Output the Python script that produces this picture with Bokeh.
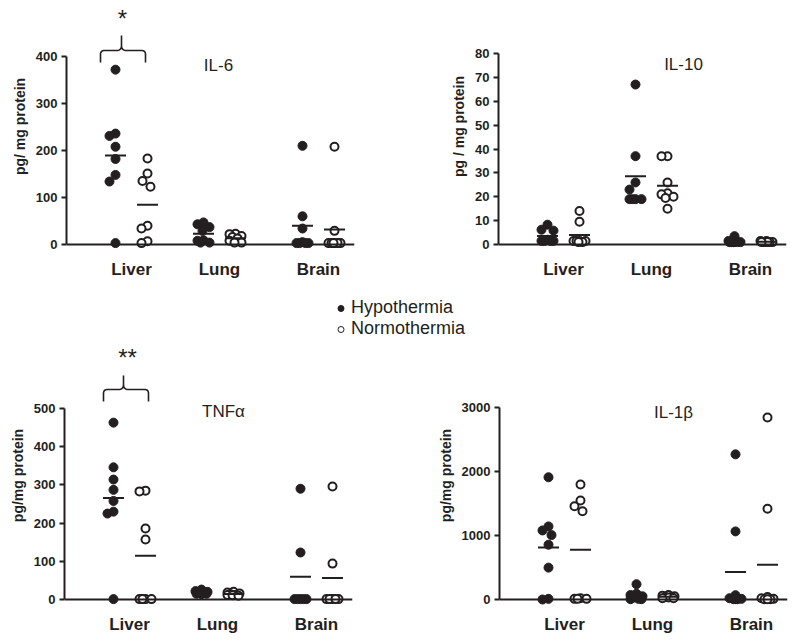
import numpy as np
from bokeh.plotting import figure
from bokeh.models import Range1d, FixedTicker, Span, Label, Legend, LegendItem
from bokeh.layouts import column, row
from bokeh.embed import file_html
from bokeh.resources import INLINE

# ---------------- data ----------------
tissues = ["Liver", "Lung", "Brain"]
groups = ["Hypothermia", "Normothermia"]

il6_hypo_liver = [372, 236, 231, 208, 182, 148, 134, 3]
il6_normo_liver = [183, 151, 135, 123, 40, 34, 7, 3]
il6_hypo_lung = [47, 43, 37, 29, 9, 8, 4, 4]
il6_normo_lung = [23, 22, 18, 16, 13, 8, 4, 4]
il6_hypo_brain = [210, 60, 34, 5, 3, 3, 3, 3]
il6_normo_brain = [208, 29, 3, 3, 3, 3, 3, 3]

il10_hypo_liver = [8.3, 6.2, 5.8, 2, 1.5, 1.5, 1.5, 1.5]
il10_normo_liver = [14, 9.5, 1.5, 1.5, 1.5, 1.5, 1, 1]
il10_hypo_lung = [67, 37, 26, 23, 19, 19, 19, 19]
il10_normo_lung = [37, 37, 26, 21.5, 21, 20, 19.5, 15]
il10_hypo_brain = [3.5, 1.5, 1, 1, 1, 1, 1, 1]
il10_normo_brain = [1.5, 1.5, 1, 1, 1, 1, 1, 1]

tnf_hypo_liver = [463, 346, 314, 287, 258, 230, 225, 1]
tnf_normo_liver = [285, 283, 186, 157, 1, 1, 1, 1]
tnf_hypo_lung = [26, 22, 20, 18, 17, 15, 15, 14]
tnf_normo_lung = [20, 18, 16, 14, 12, 12, 11, 10]
tnf_hypo_brain = [290, 123, 1, 1, 1, 1, 1]
tnf_normo_brain = [296, 94, 1, 1, 1, 1, 1]

il1b_hypo_liver = [1910, 1142, 1079, 1007, 856, 498, 10, 0]
il1b_normo_liver = [1796, 1546, 1458, 1380, 20, 10, 10, 10]
il1b_hypo_lung = [239, 90, 70, 50, 30, 10, 5, 5]
il1b_normo_lung = [70, 60, 50, 40, 40, 30, 20, 20]
il1b_hypo_brain = [2268, 1064, 67, 20, 10, 5, 5, 5]
il1b_normo_brain = [2844, 1417, 40, 20, 10, 5, 5, 5]

il6_ticks = [0, 100, 200, 300, 400]
il10_ticks = [0, 10, 20, 30, 40, 50, 60, 70, 80]
tnf_ticks = [0, 100, 200, 300, 400, 500]
il1b_ticks = [0, 1000, 2000, 3000]

# ---------------- layout constants ----------------
FONT = "Liberation Sans"
INK = "#231f20"
FRAME_W = 288
CAT_X = [65, 153, 252]
GROUP_DX = [-16, 16]
ZERO_PAD = 8  # px between frame bottom and the zero line


def beeswarm(vals, ppu, dmin=9.0, wmax=6):
    """Deterministic horizontal dodge (in px) so that dots overlap less."""
    vals = np.asarray(vals, dtype=float)
    order = np.argsort(-vals, kind="stable")
    cands = sorted(range(-wmax, wmax + 1), key=lambda c: (abs(c), c))
    placed = []
    offs = np.zeros(len(vals))
    for i in order:
        ypx = vals[i] * ppu
        best, bestd = 0.0, -1.0
        for c in cands:
            d = min((np.hypot(c - px, ypx - py) for px, py in placed), default=1e9)
            if d >= dmin:
                best = c
                break
            if d > bestd + 1e-9:
                best, bestd = c, d
        offs[i] = best
        placed.append((best, ypx))
    return offs


def quad(p0, p1, p2, n=10):
    t = np.linspace(0, 1, n)
    xs = (1 - t) ** 2 * p0[0] + 2 * (1 - t) * t * p1[0] + t ** 2 * p2[0]
    ys = (1 - t) ** 2 * p0[1] + 2 * (1 - t) * t * p1[1] + t ** 2 * p2[1]
    return list(xs), list(ys)


def brace(p, xl, xr, xp, yb, yh, yp, ppu, r=4.0, r2=5.0):
    xs, ys = [xl], [yb]
    a, b = quad((xl, yh - r), (xl, yh), (xl + r, yh))
    xs += a; ys += b
    a, b = quad((xp - r2, yh), (xp, yh), (xp, yh + r2))
    xs += a; ys += b
    xs += [xp, xp]; ys += [yp, yh + r2]
    a, b = quad((xp, yh + r2), (xp, yh), (xp + r2, yh))
    xs += a; ys += b
    a, b = quad((xr - r, yh), (xr, yh), (xr, yh - r))
    xs += a; ys += b
    xs += [xr]; ys += [yb]
    p.line(xs, [y / ppu for y in ys], line_color=INK, line_width=1.6)


def panel(width, height, left, bottom, span_px, ticks, hypo, normo, ylabel,
          title, title_x, title_px, star=None):
    axis_max = ticks[-1]
    frame_h = height - bottom
    ppu = span_px / axis_max
    p = figure(width=width, height=height,
               x_range=Range1d(0, FRAME_W),
               y_range=Range1d(-ZERO_PAD / ppu, (frame_h - ZERO_PAD) / ppu),
               toolbar_location=None, output_backend="svg",
               min_border_left=left, min_border_right=width - left - FRAME_W,
               min_border_top=0, min_border_bottom=bottom)
    p.outline_line_color = None
    p.grid.visible = False
    p.background_fill_color = "white"

    # y axis
    ya = p.yaxis[0]
    ya.ticker = FixedTicker(ticks=ticks)
    ya.bounds = (0, axis_max)
    ya.axis_line_width = 2
    ya.axis_line_color = INK
    ya.major_tick_line_width = 2
    ya.major_tick_line_color = INK
    ya.major_tick_out = 5
    ya.major_tick_in = 0
    ya.minor_tick_line_color = None
    ya.major_label_standoff = 4
    ya.major_label_text_font = FONT
    ya.major_label_text_font_style = "bold"
    ya.major_label_text_font_size = "13px"
    ya.major_label_text_color = INK
    ya.axis_label = ylabel
    ya.axis_label_standoff = 5
    ya.axis_label_text_font = FONT
    ya.axis_label_text_font_style = "bold"
    ya.axis_label_text_font_size = "14px"
    ya.axis_label_text_color = INK

    # x axis (category names only)
    xa = p.xaxis[0]
    xa.ticker = FixedTicker(ticks=CAT_X)
    xa.major_label_overrides = {cx: t for cx, t in zip(CAT_X, tissues)}
    xa.axis_line_color = None
    xa.major_tick_line_color = None
    xa.minor_tick_line_color = None
    xa.major_tick_out = 0
    xa.major_tick_in = 0
    xa.major_label_standoff = 7
    xa.major_label_text_font = FONT
    xa.major_label_text_font_style = "bold"
    xa.major_label_text_font_size = "17px"
    xa.major_label_text_color = INK

    p.add_layout(Span(location=0, dimension="width", line_color=INK, line_width=2))

    for gi, data in enumerate([hypo, normo]):
        for ci, vals in enumerate(data):
            gx = CAT_X[ci] + GROUP_DX[gi]
            xs = gx + beeswarm(vals, ppu)
            if gi == 0:
                p.scatter(xs, vals, marker="circle", size=9, fill_color=INK,
                          line_color=INK, line_width=1)
            else:
                p.scatter(xs, vals, marker="circle", size=8, fill_color="white",
                          line_color=INK, line_width=2)
    for gi, data in enumerate([hypo, normo]):
        gxs = [CAT_X[ci] + GROUP_DX[gi] for ci in range(len(data))]
        means = [float(np.mean(v)) for v in data]
        p.scatter(gxs, means, marker="dash", size=21, line_color=INK, line_width=2)

    p.add_layout(Label(x=title_x, y=title_px / ppu, text=title, text_font=FONT,
                       text_font_size="17px", text_color=INK, text_align="center",
                       text_baseline="middle"))
    if star is not None:
        (stext, sx, sbase, xl, xr, xp, yb, yh, yp) = star
        brace(p, xl, xr, xp, yb, yh, yp, ppu)
        p.add_layout(Label(x=sx, y=sbase / ppu, text=stext, text_font=FONT,
                           text_font_size="24px", text_color=INK, text_align="center",
                           text_baseline="alphabetic"))
    return p


p1 = panel(400, 285, 66, 33, 188, il6_ticks,
           [il6_hypo_liver, il6_hypo_lung, il6_hypo_brain],
           [il6_normo_liver, il6_normo_lung, il6_normo_brain],
           "pg/ mg protein", "IL-6", 152, 179,
           star=("*", 56, 226, 34, 79, 55, 182, 194, 209))
p2 = panel(400, 285, 98, 33, 191, il10_ticks,
           [il10_hypo_liver, il10_hypo_lung, il10_hypo_brain],
           [il10_normo_liver, il10_normo_lung, il10_normo_brain],
           "pg / mg protein", "IL-10", 185, 180)
p3 = panel(400, 299, 64, 35, 191, tnf_ticks,
           [tnf_hypo_liver, tnf_hypo_lung, tnf_hypo_brain],
           [tnf_normo_liver, tnf_normo_lung, tnf_normo_brain],
           "pg/mg protein", "TNFα", 159, 188,
           star=("**", 63, 242, 39, 84, 59, 198, 210, 224))
p4 = panel(400, 299, 99, 35, 192, il1b_ticks,
           [il1b_hypo_liver, il1b_hypo_lung, il1b_hypo_brain],
           [il1b_normo_liver, il1b_normo_lung, il1b_normo_brain],
           "pg/mg protein", "IL-1β", 174, 187)

# legend strip
lf = figure(width=800, height=58, x_range=Range1d(0, 1), y_range=Range1d(0, 1),
            toolbar_location=None, output_backend="svg", min_border=0,
            x_axis_location=None, y_axis_location=None)
lf.outline_line_color = None
lf.grid.visible = False
r_h = lf.scatter(x=[-5], y=[-5], marker="circle", fill_color=INK, line_color=INK, line_width=1)
r_n = lf.scatter(x=[-5], y=[-5], marker="circle", fill_color="white", line_color=INK, line_width=1)
leg = Legend(items=[LegendItem(label=groups[0], renderers=[r_h]),
                    LegendItem(label=groups[1], renderers=[r_n])],
             location=(333, 4), padding=0, margin=0, spacing=-1,
             glyph_width=15, glyph_height=20, label_height=20, label_standoff=3,
             border_line_color=None, background_fill_alpha=0,
             label_text_font=FONT, label_text_font_size="18px", label_text_color=INK)
lf.add_layout(leg)

layout = column(row(p1, p2), lf, row(p3, p4))
open("out.html", "w").write(file_html(layout, INLINE))
